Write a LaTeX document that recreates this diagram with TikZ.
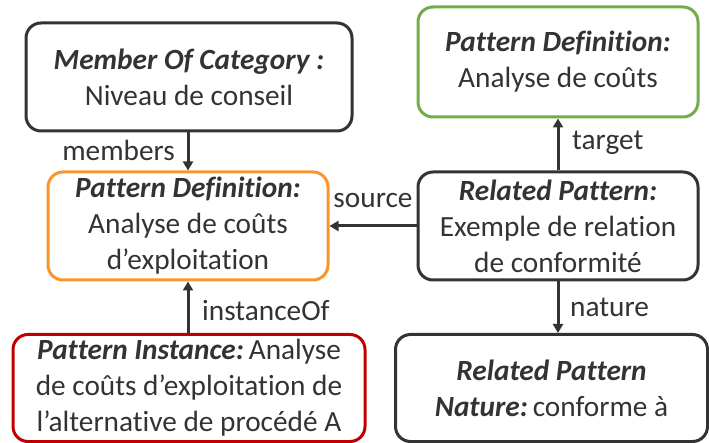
\documentclass[tikz,border=0pt]{standalone}
\usepackage{fontspec}
\setmainfont{Carlito}[Ligatures=NoCommon]
\usetikzlibrary{arrows.meta}
\definecolor{ink}{HTML}{333333}
\definecolor{gbord}{HTML}{70AD47}
\definecolor{obord}{HTML}{F7962A}
\definecolor{rbord}{HTML}{C00000}
\tikzset{
  box/.style={draw=ink, line width=3pt, rounded corners=15pt, align=center, text=ink,
    font=\fontsize{29.3}{36}\selectfont, inner sep=0pt},
  lbl/.style={text=ink, font=\fontsize{29.3}{32}\selectfont, inner sep=0pt},
  conn/.style={draw=ink, line width=3pt, -{Triangle[length=9pt,width=10pt]}},
}
\begin{document}
\begin{tikzpicture}[x=1pt,y=-1pt]
\useasboundingbox (0,0) rectangle (709,443);
\node[box, minimum width=326pt, minimum height=108pt] (moc) at (189,77)
  {\textbf{\textit{Member Of Category :}}\\Niveau de conseil};
\node[box, draw=gbord, minimum width=280pt, minimum height=110pt] (green) at (558,62)
  {\textbf{\textit{Pattern Definition:}}\\Analyse de coûts};
\node[box, draw=obord, minimum width=280pt, minimum height=108pt] (orange) at (188,226)
  {\textbf{\textit{Pattern Definition:}}\\Analyse de coûts\\d’exploitation};
\node[box, minimum width=280pt, minimum height=108pt] (rp) at (558,226)
  {\textbf{\textit{Related Pattern:}}\\Exemple de relation\\de conformité};
\node[box, draw=rbord, minimum width=352pt, minimum height=107pt] (red) at (189,388)
  {\textbf{\textit{Pattern Instance:}}\,Analyse\\de coûts d’exploitation de\\l’alternative de procédé A};
\node[box, minimum width=312pt, minimum height=107pt] (nat) at (551.5,388)
  {\textbf{\textit{Related Pattern}}\\\textbf{\textit{Nature:}}\,conforme à};
\draw[conn] (moc.south -| orange.north) -- (orange.north);
\draw[conn] (rp.north) -- (green.south);
\draw[conn] (rp.west |- orange.east) -- (orange.east);
\draw[conn] (red.north -| orange.south) -- (orange.south);
\draw[conn] (rp.south) -- (rp.south |- nat.north);
\node[lbl, anchor=east] (lmem) at (175,150) {members};
\node[lbl] (lsrc) at (373,200) {source};
\node[lbl, anchor=west] (ltgt) at (572,143) {target};
\node[lbl, anchor=west] (linst) at (202,311) {instanceOf};
\node[lbl, anchor=west] (lnat) at (570,307) {nature};
\end{tikzpicture}
\end{document}
